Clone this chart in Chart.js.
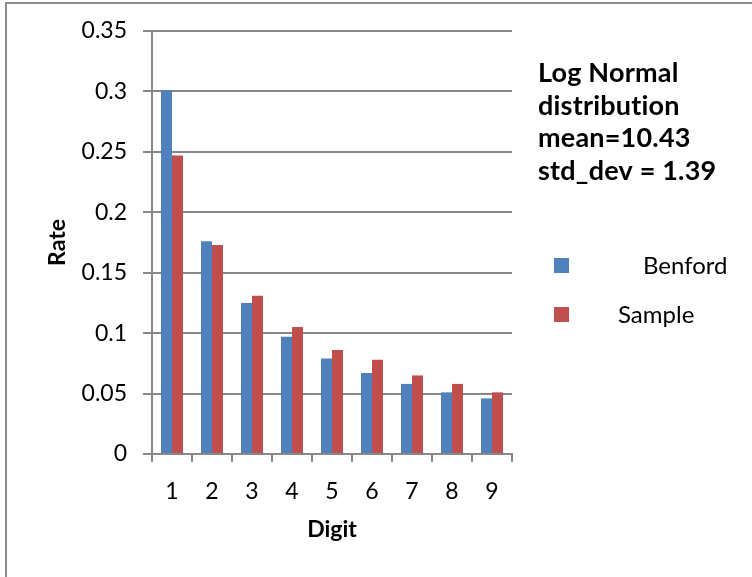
<!DOCTYPE html>
<html>
<head>
<meta charset="utf-8">
<script src="https://cdn.jsdelivr.net/npm/chart.js@4/dist/chart.umd.min.js"></script>
<style>
  html, body { margin: 0; padding: 0; background: #fff; }
  #wrap { width: 752px; height: 577px; position: relative; }
</style>
</head>
<body>
<div id="wrap"><canvas id="chart" width="752" height="577"></canvas></div>
<script>
// data
const digits = ["1", "2", "3", "4", "5", "6", "7", "8", "9"];
const benford = [0.301, 0.176, 0.125, 0.097, 0.079, 0.067, 0.058, 0.051, 0.046];
const sample = [0.247, 0.173, 0.131, 0.105, 0.086, 0.078, 0.065, 0.058, 0.051];
const yTicks = [0, 0.05, 0.1, 0.15, 0.2, 0.25, 0.3, 0.35];
const noteLines = ["Log Normal", "distribution", "mean=10.43", "std_dev = 1.39"];

const FONT = "Lato";
const GRID = "#878787";

// outer frame + note text + legend, drawn by hand
const extras = {
  id: "extras",
  beforeDraw(chart) {
    const ctx = chart.ctx;
    ctx.save();
    ctx.fillStyle = "#fff";
    ctx.fillRect(0, 0, chart.width, chart.height);
    ctx.strokeStyle = "#8c8c8c";
    ctx.lineWidth = 2;
    ctx.strokeRect(6, 3, 900, 900);
    ctx.restore();
  },
  afterDraw(chart) {
    const ctx = chart.ctx;
    ctx.save();
    ctx.fillStyle = "#000";
    ctx.textBaseline = "alphabetic";
    ctx.textAlign = "left";
    ctx.letterSpacing = "0.2px"; // keeps Lato from joining "ti"
    ctx.font = "bold 27px " + FONT;
    noteLines.forEach(function(t, i) {
      ctx.fillText(t, 538, 82 + i * 32.5);
    });

    ctx.letterSpacing = "0px";
    ctx.font = "24px " + FONT;
    ctx.textBaseline = "middle";
    const legendPos = [{ y: 265, tx: 643 }, { y: 314, tx: 618 }];
    chart.data.datasets.forEach(function(ds, i) {
      const p = legendPos[i];
      ctx.fillStyle = ds.backgroundColor;
      ctx.fillRect(554, p.y - 7, 15, 15);
      ctx.fillStyle = "#000";
      ctx.fillText(ds.label, p.tx, p.y + 1);
    });
    ctx.restore();
  }
};

const config = {
  type: "bar",
  data: {
    labels: digits,
    datasets: [
      { label: "Benford", data: benford, backgroundColor: "#4F81BD" },
      { label: "Sample", data: sample, backgroundColor: "#C0504D" }
    ]
  },
  options: {
    responsive: false,
    animation: false,
    events: [],
    layout: { padding: { left: 0, top: 31, right: 240, bottom: 0 } },
    datasets: { bar: { categoryPercentage: 0.55, barPercentage: 1 } },
    plugins: { legend: { display: false }, tooltip: { enabled: false } },
    scales: {
      x: {
        grid: { drawOnChartArea: false, drawTicks: true, tickLength: 8, color: GRID, lineWidth: 2 },
        border: { color: GRID, width: 2 },
        ticks: { color: "#000", font: { family: FONT, size: 23 }, padding: 16 },
        title: { display: true, text: "Digit", color: "#000", font: { family: FONT, size: 23, weight: "bold" }, padding: { top: 0, bottom: 34 } },
        afterFit(scale) { scale.height = 123; }
      },
      y: {
        min: 0,
        max: 0.35,
        afterBuildTicks(scale) { scale.ticks = yTicks.map(function(v) { return { value: v }; }); },
        grid: { color: GRID, lineWidth: 2, tickLength: 9 },
        border: { color: GRID, width: 2 },
        ticks: {
          color: "#000", font: { family: FONT, size: 23 }, padding: 16,
          callback: function(v) { return String(+v.toFixed(2)); }
        },
        title: { display: true, text: "Rate", color: "#000", font: { family: FONT, size: 23, weight: "bold" }, padding: { top: 44, bottom: 0 } },
        afterFit(scale) { scale.width = 152; }
      }
    }
  },
  plugins: [extras]
};

const chart = new Chart(document.getElementById("chart"), config);
</script>
</body>
</html>
